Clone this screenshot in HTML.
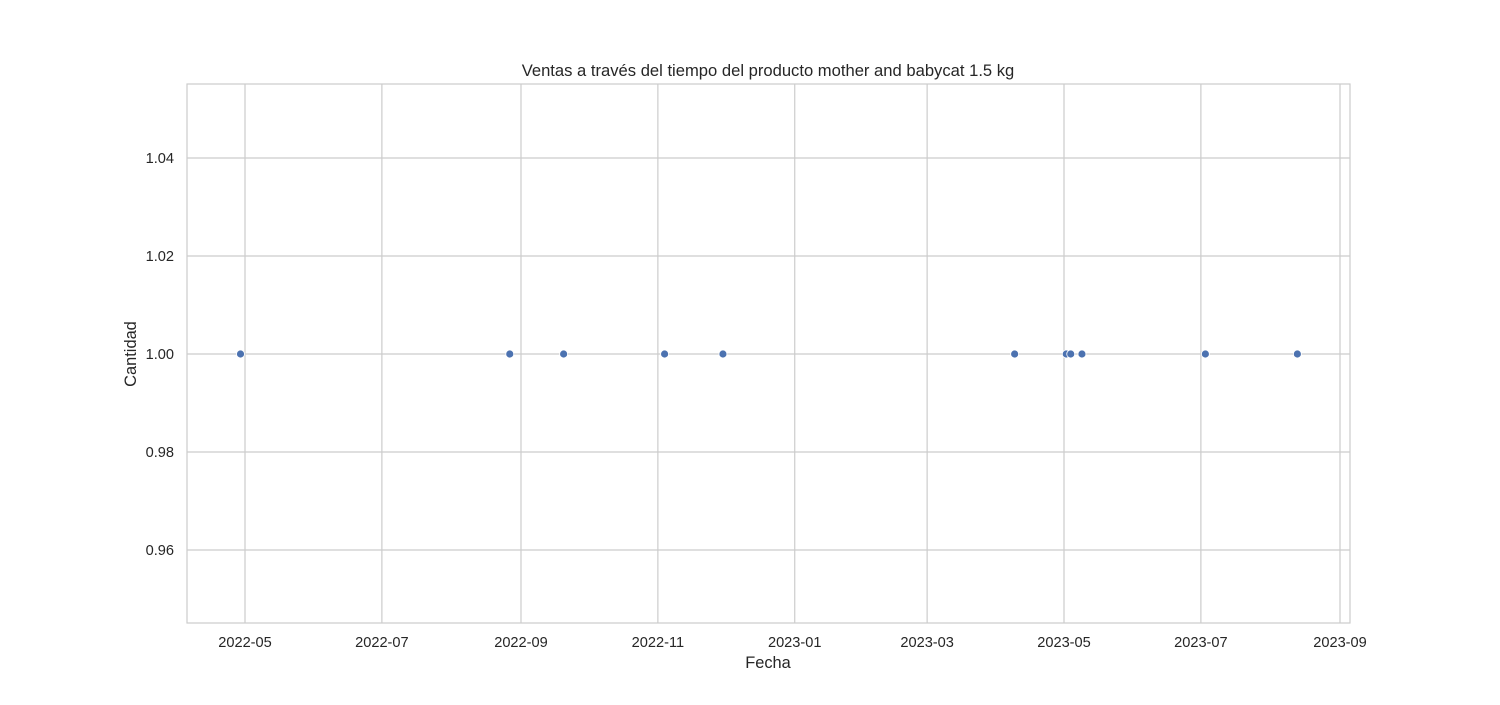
<!DOCTYPE html>
<html><head><meta charset="utf-8">
<style>
body{margin:0;background:#fff;width:1500px;height:700px;overflow:hidden;font-family:"Liberation Sans",sans-serif;}
svg text{font-family:"Liberation Sans",sans-serif;fill:#262626;}
</style></head>
<body>
<svg id="chart" width="1500" height="700"></svg>
<script>
const dates = ["2022-04-29","2022-08-27","2022-09-20","2022-11-04","2022-11-30","2023-04-09","2023-05-02","2023-05-04","2023-05-09","2023-07-03","2023-08-13"];
const cantidades = [1,1,1,1,1,1,1,1,1,1,1];
const xTicks = ["2022-05","2022-07","2022-09","2022-11","2023-01","2023-03","2023-05","2023-07","2023-09"];
const yTicks = [0.96,0.98,1.00,1.02,1.04];

const L=187,R=1350,T=84,B=623;
const d0=Date.UTC(2022,4,1), pxPerDay=1095/488;
function xs(s){const p=s.split("-");const t=Date.UTC(+p[0],+p[1]-1,p[2]?+p[2]:1);return 245+(t-d0)/86400000*pxPerDay;}
function ys(v){return 354-(v-1)*4900;}
const NS="http://www.w3.org/2000/svg";
const svg=document.getElementById("chart");
function mk(tag,attrs,parent){const e=document.createElementNS(NS,tag);for(const k in attrs)e.setAttribute(k,attrs[k]);(parent||svg).appendChild(e);return e;}

const grid=mk("g",{});


xTicks.forEach(t=>{
  const x=xs(t);
  const l=mk("line",{x1:x,x2:x,y1:T,y2:B,stroke:"#cccccc","stroke-width":1.2},grid);
  
  
  const tx=mk("text",{x:x,y:647,"text-anchor":"middle","font-size":14.6});
  tx.textContent=t;
  
  
});
yTicks.forEach(v=>{
  const y=ys(v);
  const l=mk("line",{x1:L,x2:R,y1:y,y2:y,stroke:"#cccccc","stroke-width":1.2},grid);
  
  
  const tx=mk("text",{x:174,y:y+5,"text-anchor":"end","font-size":14.6});
  tx.textContent=v.toFixed(2);
  
  
});
const frame=mk("rect",{x:L,y:T,width:R-L,height:B-T,fill:"none",stroke:"#cccccc","stroke-width":1.2});



dates.forEach((d,i)=>{
  const c=mk("circle",{cx:xs(d),cy:ys(cantidades[i]),r:4,fill:"#4c72b0",stroke:"#fff","stroke-width":0.8});
  
  
});

const title=mk("text",{x:768,y:76,"text-anchor":"middle","font-size":16.6});
title.textContent="Ventas a través del tiempo del producto mother and babycat 1.5 kg";


const xl=mk("text",{x:768,y:668,"text-anchor":"middle","font-size":16.4});
xl.textContent="Fecha";


const yl=mk("text",{x:0,y:0,"text-anchor":"middle","font-size":16.4,transform:"translate(136,354) rotate(-90)"});
yl.textContent="Cantidad";


</script>
</body></html>
